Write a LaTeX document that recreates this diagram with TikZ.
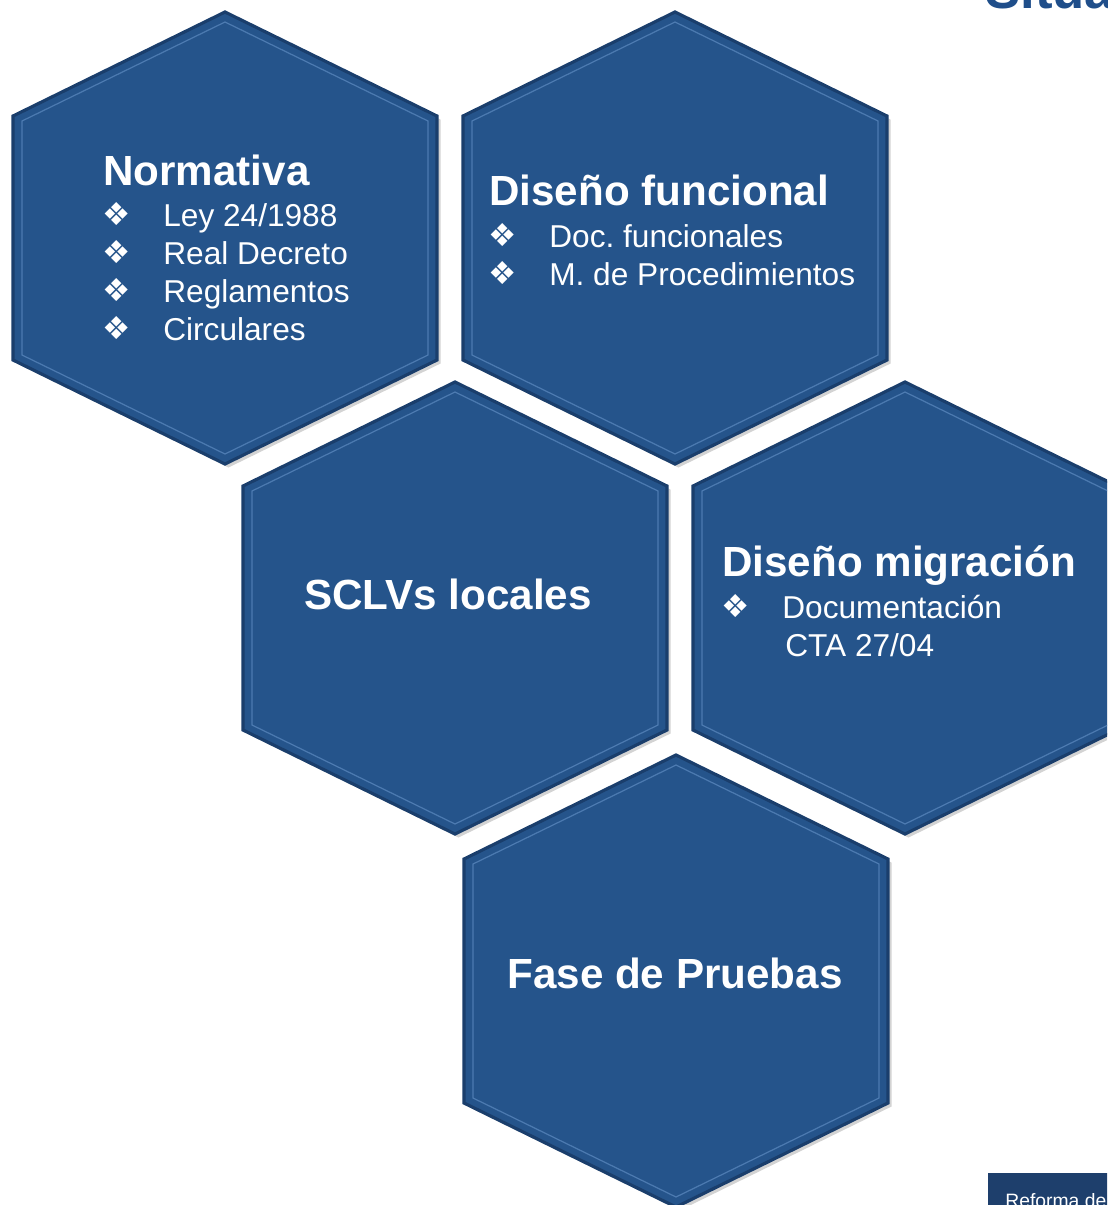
\documentclass[tikz,border=0pt]{standalone}
\usepackage{fontspec}
\setmainfont{Liberation Sans}
\newfontfamily\dingfont{DejaVu Sans}
\usepackage{xcolor}
\usetikzlibrary{shadows,positioning}
\frenchspacing

\definecolor{hexblue}{HTML}{25548B}
\definecolor{hexedge}{HTML}{1A3E6C}
\definecolor{hexlight}{HTML}{4C7AB0}
\definecolor{titleblue}{HTML}{1F4E8A}
\definecolor{footblue}{HTML}{1E3F6C}

\begin{document}
\begin{tikzpicture}[x=0.02cm,y=-0.02cm,
      hex_cell/.style={
         fill=hexblue,
         draw=hexedge,
         line width=1.8pt,
         line join=miter,
         drop shadow={opacity=0.35,shadow xshift=2pt,shadow yshift=-2pt}},
      hex_bevel/.style={
         draw=hexlight,
         line width=0.7pt},
      hex_head/.style={
         anchor=base west,
         inner sep=0pt,
         text=white,
         font=\bfseries\fontsize{24}{28}\selectfont},
      hex_item/.style={
         anchor=base west,
         inner sep=0pt,
         text=white,
         font=\fontsize{18}{21}\selectfont},
      hex_bullet/.style={
         anchor=center,
         inner sep=0pt,
         text=white,
         font=\dingfont\fontsize{18}{20}\selectfont}
]
      \useasboundingbox (0,0) rectangle (1107,1205);
      \clip (0,0) rectangle (1107,1205);

      %hexagons
      \foreach \cx/\cy in {225/238, 675/238, 455/608, 905/608, 676/981}{
        \draw[hex_cell] (\cx,\cy-226) -- (\cx+212,\cy-122) -- (\cx+212,\cy+122)
          -- (\cx,\cy+226) -- (\cx-212,\cy+122) -- (\cx-212,\cy-122) -- cycle;
        \draw[hex_bevel] (\cx,\cy-216) -- (\cx+203,\cy-117) -- (\cx+203,\cy+117)
          -- (\cx,\cy+216) -- (\cx-203,\cy+117) -- (\cx-203,\cy-117) -- cycle;
      }

      %headings
      \node[hex_head] (normativa) at (103,185) {Normativa};
      \node[hex_head] (funcional) at (489,205) {Diseño funcional};
      \node[hex_head,anchor=base] (sclvs) at (448,609) {SCLVs locales};
      \node[hex_head] (migracion) at (722,576) {Diseño migración};
      \node[hex_head,anchor=base] (pruebas) at (675,988) {Fase de Pruebas};

      %bullet items
      \foreach \n/\x/\y/\txt in {% name/x/baseline/text
        ley/163/226/{Ley 24/1988},
        real/163/264/{Real Decreto},
        regl/163/302/{Reglamentos},
        circ/163/340/{Circulares},
        doc/549/247/{Doc. funcionales},
        proc/549/285/{M. de Procedimientos},
        docum/782/618/{Documentación}}{
        \node[hex_bullet] (b\n) at (\x-46,\y-12) {❖};
        \node[hex_item] (\n) at (\x,\y) {\txt};
      }
      \node[hex_item] (cta) at (785,656) {CTA 27/04};

      %slide leftovers
      \node[anchor=base west,inner sep=0pt,text=titleblue,
        font=\bfseries\fontsize{30}{34}\selectfont] (titulo) at (985,8) {Situación};
      \fill[footblue] (988,1173) rectangle (1120,1215);
      \node[anchor=base west,inner sep=0pt,text=white,
        font=\fontsize{11}{13}\selectfont] (pie) at (1005,1207) {Reforma de};
\end{tikzpicture}
\end{document}
